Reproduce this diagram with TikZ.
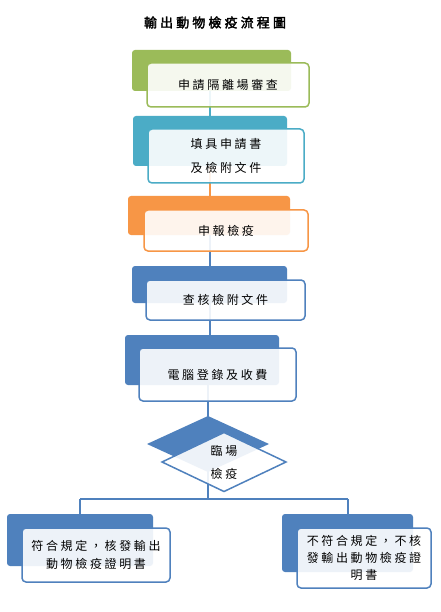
\documentclass[tikz,border=0pt]{standalone}
\usepackage{fontspec}
\newfontfamily\cjk[LetterSpace=22]{Noto Sans CJK TC}
\newfontfamily\cjkt[LetterSpace=24,FakeBold=2.5]{Noto Sans CJK TC}
\usetikzlibrary{shapes.geometric}
\definecolor{cgreen}{HTML}{9BBB59}
\definecolor{cteal}{HTML}{4BACC6}
\definecolor{corange}{HTML}{F79646}
\definecolor{cblue}{HTML}{4F81BD}
\begin{document}
\begin{tikzpicture}[x=1pt,y=-1pt,
  back/.style={fill=#1, draw=none, rounded corners=3pt, inner sep=0pt, outer sep=0pt},
  front/.style={draw=#1, line width=1.5pt, fill=white, fill opacity=0.9, text opacity=1,
     rounded corners=4pt, inner sep=0pt, outer sep=0pt, align=center,
     font=\cjk\fontsize{12}{16}\selectfont},
  conn/.style={line width=2pt},
  dback/.style={diamond, fill=cblue, draw=none, inner sep=0pt, outer sep=0pt},
  dfront/.style={diamond, draw=cblue, line width=1.5pt, fill=white, fill opacity=0.9, inner sep=0pt, outer sep=0pt},
  lbl/.style={align=center, inner sep=0pt, font=\cjk\fontsize{12}{16}\selectfont}
]
\useasboundingbox (0,0) rectangle (440,612);
\fill[white] (0,0) rectangle (440,612);

\node[font=\cjkt\fontsize{13}{14}\selectfont, inner sep=0pt] (title) at (215,22.5) {輸出動物檢疫流程圖};

\coordinate (p1) at (211.5,70.5);
\coordinate (p2) at (210,141);
\coordinate (p3) at (209,215.5);
\coordinate (p4) at (209.5,284.5);
\coordinate (p5) at (202,360);
\coordinate (pd) at (208,444);
\coordinate (pl) at (80,540);
\coordinate (pr) at (347.5,543);
\coordinate (j) at (208,499);

% connectors
\draw[conn,cteal] (p2 |- p1) -- (p2);
\draw[conn,corange] (p2) -- (p2 |- p3);
\draw[conn,cblue] (p3 -| p4) -- (p4);
\draw[conn,cblue] (p4) -- (p4 |- p5);
\draw[conn,cblue] (pd |- p5) -- (pd);
\draw[conn,cblue] (pd) -- (j);
\draw[conn,cblue] (pl |- j) -- (pr |- j);
\draw[conn,cblue] (pl |- j) -- (pl);
\draw[conn,cblue] (pr |- j) -- (pr);

% back shapes
\node[back=cgreen, minimum width=159pt, minimum height=41pt] (b1) at (p1) {};
\node[back=cteal, minimum width=154pt, minimum height=50pt] (b2) at (p2) {};
\node[back=corange, minimum width=162pt, minimum height=39pt] (b3) at (p3) {};
\node[back=cblue, minimum width=155pt, minimum height=37pt] (b4) at (p4) {};
\node[back=cblue, minimum width=154pt, minimum height=50pt] (b5) at (p5) {};
\node[dback, minimum width=122pt, minimum height=56pt] (d0) at (pd) {};
\node[back=cblue, minimum width=146pt, minimum height=52pt] (bl) at (pl) {};
\node[back=cblue, minimum width=131pt, minimum height=58pt] (br) at (pr) {};

% front shapes
\node[front=cgreen, minimum width=162pt, minimum height=44pt] (f1) at (228,85) {申請隔離場審查};
\node[front=cteal, minimum width=156pt, minimum height=54pt, font=\cjk\fontsize{12}{24}\selectfont] (f2) at (226,156) {填具申請書\\及檢附文件};
\node[front=corange, minimum width=164pt, minimum height=41pt] (f3) at (226,230.5) {申報檢疫};
\node[front=cblue, minimum width=159pt, minimum height=40pt] (f4) at (225.5,300) {查核檢附文件};
\node[front=cblue, minimum width=157pt, minimum height=53pt] (f5) at (217.5,374.5) {電腦登錄及收費};
\node[dfront, minimum width=124pt, minimum height=59pt] (d1) at (224,462) {};
\node[lbl, font=\cjk\fontsize{12}{23}\selectfont] (dl) at (d1.center) {臨場\\檢疫};
\node[front=cblue, minimum width=148pt, minimum height=54pt, font=\cjk\fontsize{12}{18}\selectfont] (fl) at (96,555) {符合規定，核發輸出\\動物檢疫證明書};
\node[front=cblue, minimum width=134pt, minimum height=60pt, font=\cjk\fontsize{12}{17}\selectfont] (fr) at (364,558) {不符合規定，不核\\發輸出動物檢疫證\\明書};
\end{tikzpicture}
\end{document}
